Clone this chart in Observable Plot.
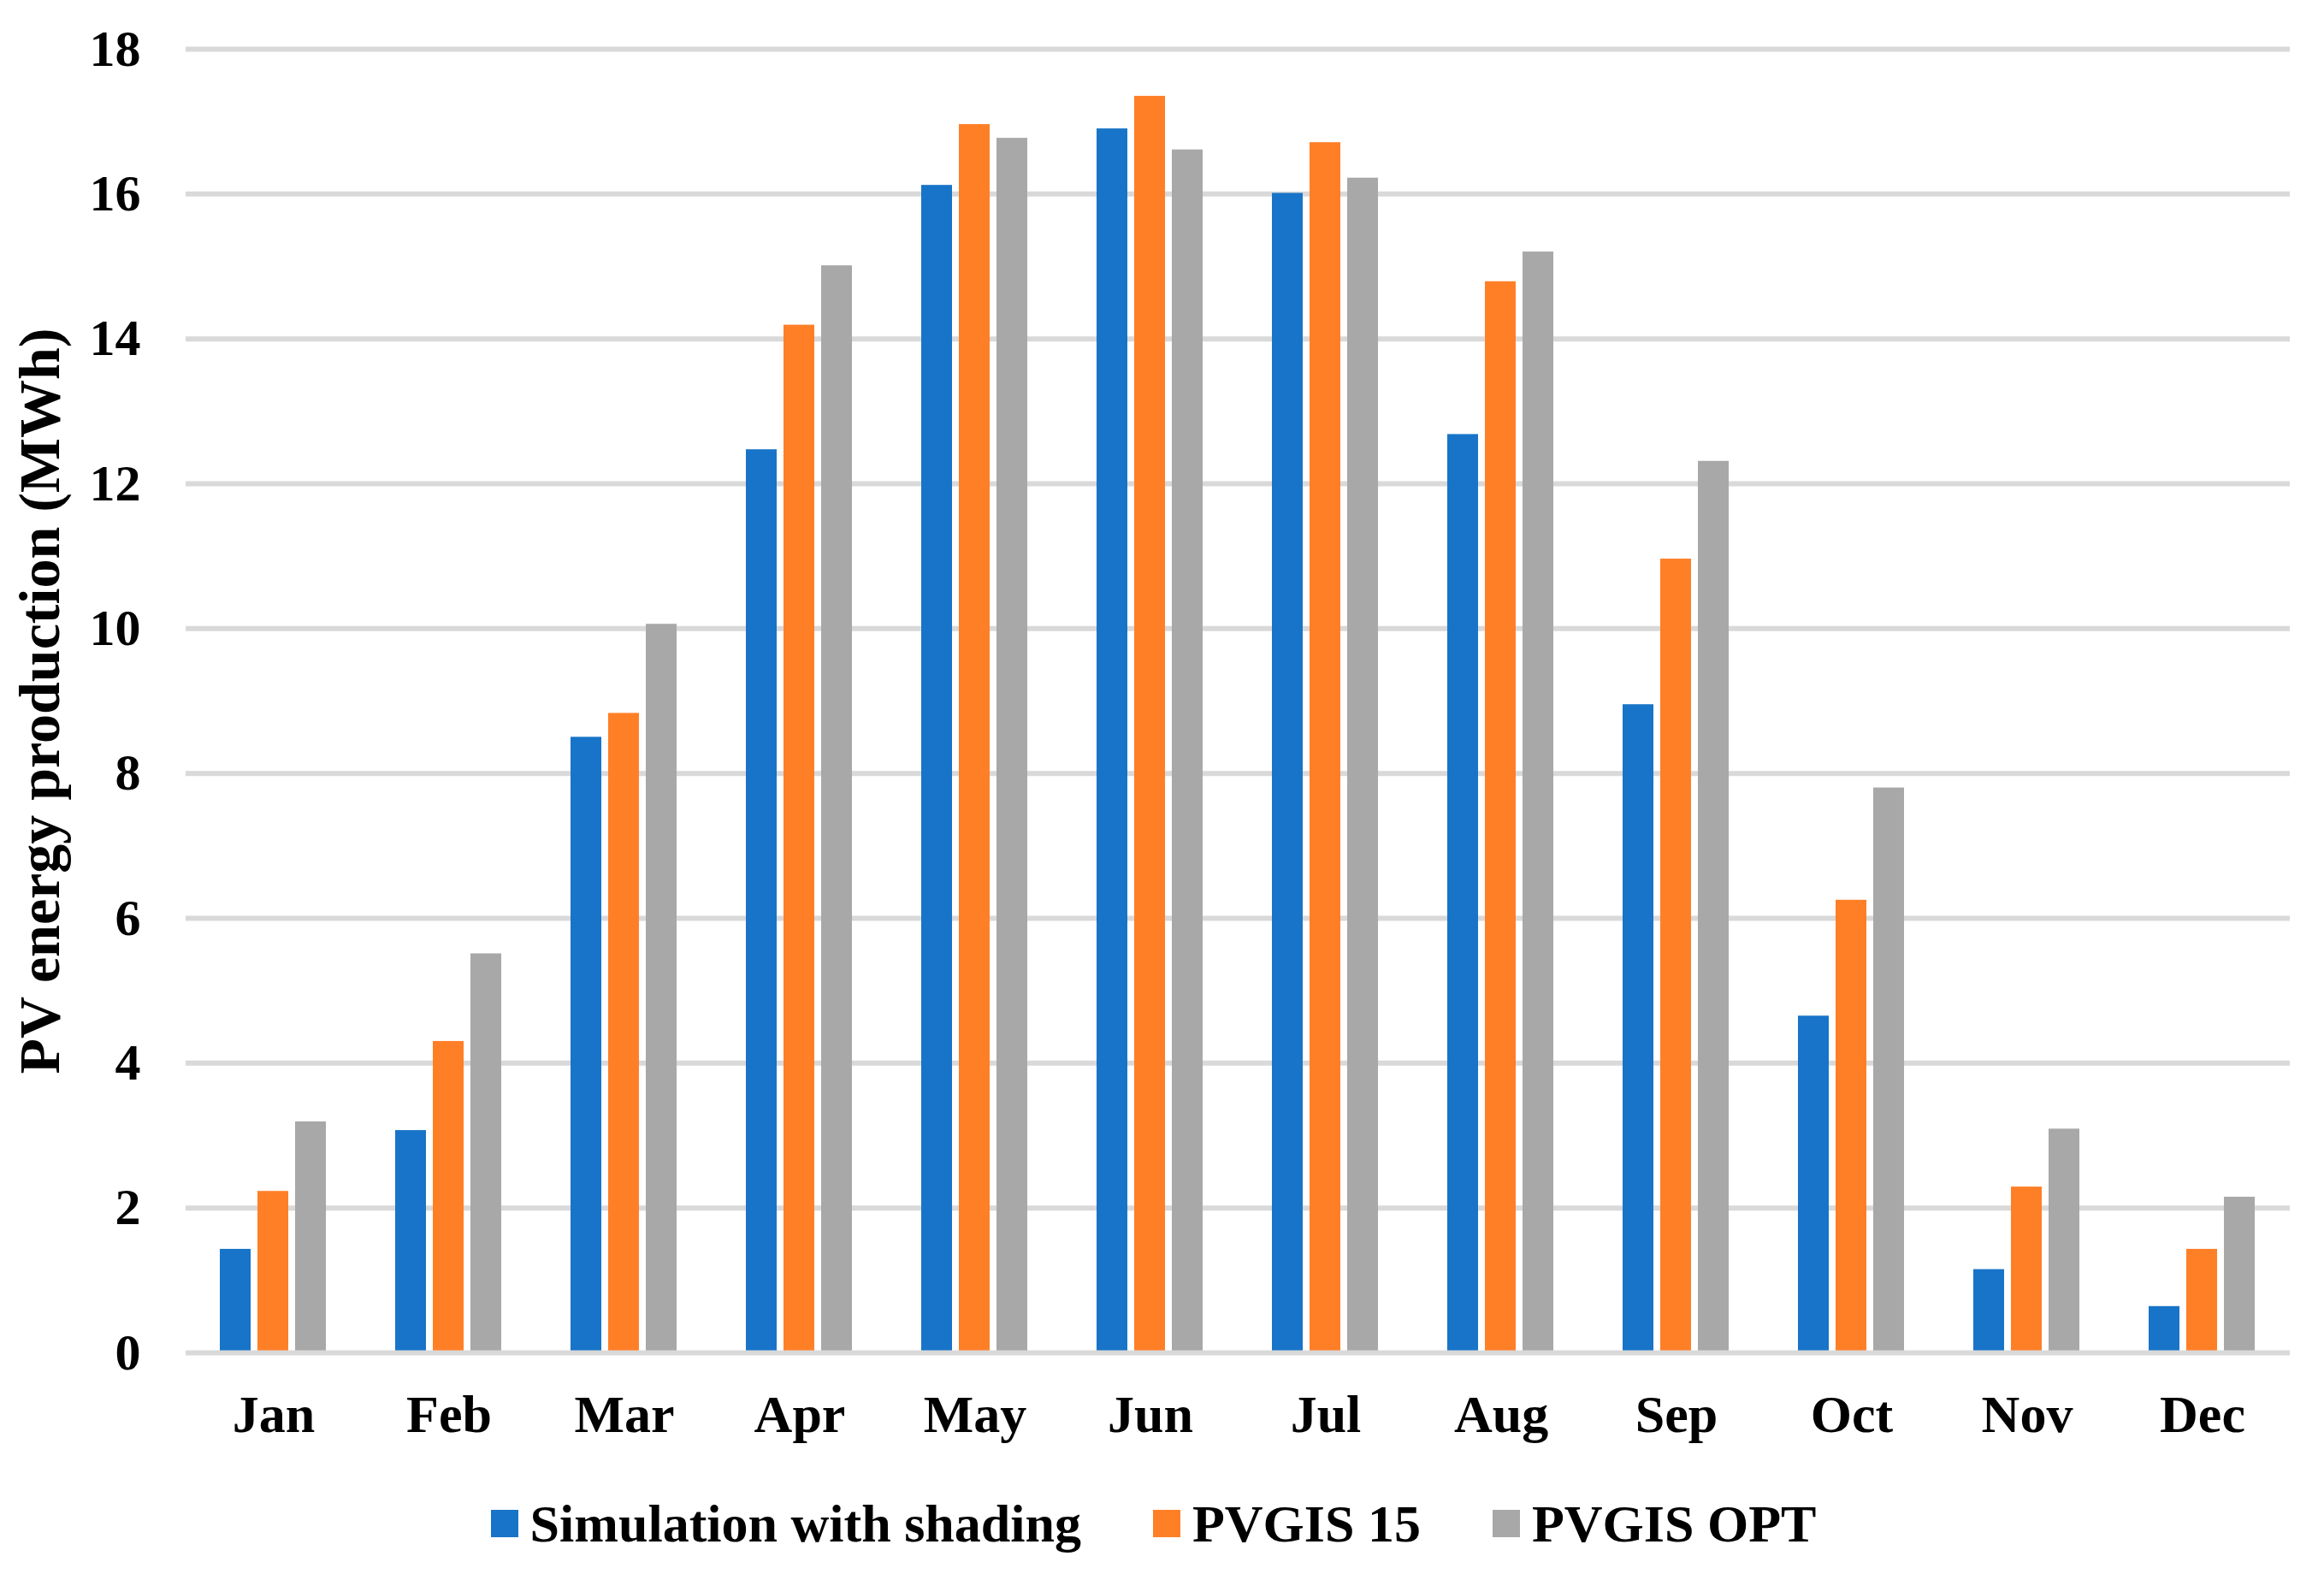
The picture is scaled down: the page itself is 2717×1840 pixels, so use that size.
<!DOCTYPE html>
<html>
<head>
<meta charset="utf-8">
<script src="https://cdn.jsdelivr.net/npm/d3@7"></script>
<script src="https://cdn.jsdelivr.net/npm/@observablehq/plot@0.6"></script>
<style>
  html, body { margin: 0; padding: 0; background: #fff; }
  #wrap { width: 2717px; height: 1840px; position: relative; font-family: "Liberation Serif", "Times New Roman", serif; font-weight: bold; }
  #legend { display: flex; justify-content: center; align-items: center; margin-top: 30px; padding-right: 20px; height: 62px; font-size: 62px; line-height: 62px; color: #000; }
  .item { display: flex; align-items: center; margin: 0 42px; }
  .sw { width: 32px; height: 32px; margin-right: 14px; }
</style>
</head>
<body>
<div id="wrap"><div id="chart"></div><div id="legend"></div></div>
<script>
const months = ["Jan","Feb","Mar","Apr","May","Jun","Jul","Aug","Sep","Oct","Nov","Dec"];
const seriesNames = ["Simulation with shading","PVGIS 15","PVGIS OPT"];
const simulationWithShading = [1.43, 3.07, 8.50, 12.47, 16.12, 16.90, 16.01, 12.68, 8.95, 4.65, 1.15, 0.64];
const pvgis15 = [2.23, 4.30, 8.83, 14.19, 16.96, 17.35, 16.71, 14.79, 10.96, 6.25, 2.29, 1.43];
const pvgisOpt = [3.19, 5.51, 10.06, 15.01, 16.77, 16.61, 16.22, 15.20, 12.31, 7.80, 3.09, 2.15];
const colors = ["#1874C8", "#FF7F27", "#A8A8A8"];
const yTicks = [0, 2, 4, 6, 8, 10, 12, 14, 16, 18];

const seriesValues = [simulationWithShading, pvgis15, pvgisOpt];
const data = [];
months.forEach((m, i) => {
  seriesNames.forEach((s, j) => data.push({month: m, series: s, value: seriesValues[j][i]}));
});

const gridStyle = {stroke: "#d9d9d9", strokeOpacity: 1, strokeWidth: 6};

const chart = Plot.plot({
  width: 2717,
  height: 1720,
  marginLeft: 216,
  marginRight: 39,
  marginTop: 57,
  marginBottom: 139,
  style: {fontFamily: "'Liberation Serif', 'Times New Roman', serif", fontWeight: "bold", fontSize: "62px", color: "#000", background: "#fff"},
  fx: {domain: months, padding: 0},
  x: {domain: seriesNames, paddingInner: 0.178, paddingOuter: 0.868, axis: null},
  y: {domain: [0, 18]},
  color: {domain: seriesNames, range: colors},
  marks: [
    Plot.gridY(yTicks.filter(d => d !== 0), gridStyle),
    Plot.barY(data, {fx: "month", x: "series", y: "value", fill: "series"}),
    Plot.ruleY([0], gridStyle),
    Plot.axisY(yTicks, {tickSize: 0, tickPadding: 53, fontSize: 60, tickFormat: d3.format("d"), label: null}),
    Plot.axisY({ticks: [], tickSize: 0, fontSize: 68, label: "PV energy production (MWh)", labelAnchor: "center", labelArrow: "none", labelOffset: 197}),
    Plot.axisFx({anchor: "bottom", tickSize: 0, tickPadding: 48, fontSize: 62, label: null})
  ]
});
document.getElementById("chart").appendChild(chart);

const color = chart.scale("color");
const legend = d3.select("#legend");
color.domain.forEach((d, i) => {
  const item = legend.append("div").attr("class", "item");
  item.append("div").attr("class", "sw").style("background", color.range[i]);
  item.append("span").text(d);
});
</script>
</body>
</html>
